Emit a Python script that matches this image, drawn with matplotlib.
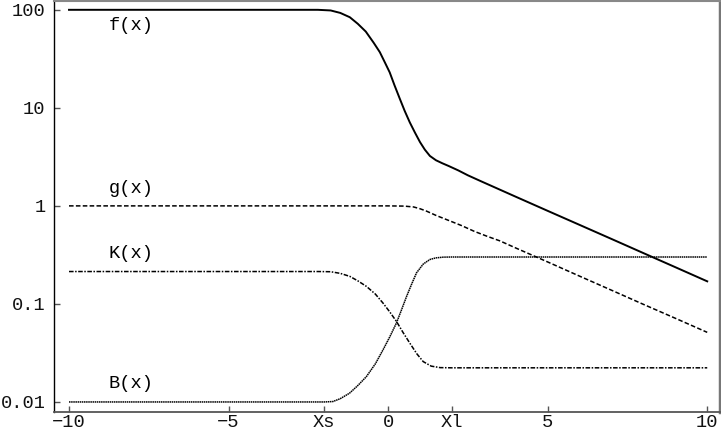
import matplotlib
matplotlib.use("Agg")
import matplotlib.pyplot as plt

plt.rcParams['font.family'] = ['Liberation Mono', 'DejaVu Sans Mono']

# f(x)
f_x = [-10, -2.2, -1.8, -1.5, -1.2, -0.95, -0.7, -0.45, -0.26, -0.1, 0.05, 0.2,
       0.37, 0.52, 0.68, 0.84, 1.0, 1.15, 1.31, 1.5, 1.7, 1.9, 2.2, 2.5, 2.9,
       4, 5, 6, 7, 8, 9, 10]
f_y = [100, 100, 98.5, 93, 84, 72, 60, 46, 37, 29, 23, 17,
       12.3, 9.3, 7.1, 5.6, 4.47, 3.75, 3.23, 2.92, 2.72, 2.55, 2.3, 2.05, 1.79,
       1.24, 0.89, 0.64, 0.46, 0.33, 0.237, 0.17]

# g(x)
g_x = [-10, 0, 0.5, 0.8, 1.0, 1.2, 1.5, 1.9, 2.3, 2.7, 3.1, 3.5, 4, 5, 6, 7, 8, 9, 10]
g_y = [1.0, 1.0, 0.995, 0.975, 0.935, 0.885, 0.80, 0.71, 0.63, 0.55, 0.49, 0.44,
       0.372, 0.268, 0.192, 0.138, 0.099, 0.0714, 0.0513]

# K(x)
k_x = [-10, -2.2, -1.8, -1.5, -1.2, -0.95, -0.68, -0.4, -0.16, 0.05, 0.26, 0.47,
       0.68, 0.9, 1.1, 1.35, 1.63, 2.0, 10]
k_y = [0.214, 0.214, 0.213, 0.205, 0.191, 0.172, 0.151, 0.126, 0.102, 0.083, 0.0664,
       0.051, 0.0398, 0.031, 0.0258, 0.0232, 0.0224, 0.0223, 0.0223]

# B(x)
b_x = [-10, -2.0, -1.73, -1.5, -1.21, -0.95, -0.68, -0.4, -0.16, 0.05, 0.26, 0.42,
       0.58, 0.74, 0.89, 1.1, 1.31, 1.5, 1.73, 2.0, 10]
b_y = [0.01, 0.01, 0.0101, 0.0108, 0.01228, 0.0147, 0.01815, 0.0245, 0.034, 0.046,
       0.0638, 0.087, 0.1195, 0.16, 0.2075, 0.255, 0.284, 0.295, 0.300, 0.301, 0.301]

x_ticks = [-10, -5, -2, 0, 2, 5, 10]
x_labels = ['\u221210', '\u22125', 'Xs', '0', 'Xl', '5', '10']
y_ticks = [0.01, 0.1, 1, 10, 100]
y_labels = ['0.01', '0.1', '1', '10', '100']

fig = plt.figure(figsize=(7.21, 4.34), dpi=100)
ax = fig.add_axes([0.0749, 0.0507, 0.9237, 0.947])

ax.plot(f_x, f_y, color='black', lw=1.4, ls='-')
ax.plot(g_x, g_y, color='black', lw=1.1, ls=(0, (3, 1.5)))
ax.plot(k_x, k_y, color='black', lw=1.1, ls=(0, (3, 1, 1, 1)))
ax.plot(b_x, b_y, color='black', lw=1.1, ls=(0, (1, 0.4)))

ax.set_yscale('log')
ax.set_xlim(-10.47, 10.4)
ax.set_ylim(0.0079, 123)

ax.set_xticks(x_ticks)
ax.set_xticklabels(x_labels)
ax.set_yticks(y_ticks)
ax.set_yticklabels(y_labels)
ax.minorticks_off()
ax.tick_params(direction='in', length=4, width=1, color='#555555',
               labelsize=13.5, labelcolor='#111111')
ax.tick_params(axis='y', pad=6)
ax.tick_params(axis='x', pad=1.5)

# Підписи кривих
ax.text(-8.75, 68.6, 'f(x)', fontsize=13.5, va='center', ha='left')
ax.text(-8.75, 1.51, 'g(x)', fontsize=13.5, va='center', ha='left')
ax.text(-8.75, 0.327, 'K(x)', fontsize=13.5, va='center', ha='left')
ax.text(-8.75, 0.0153, 'B(x)', fontsize=13.5, va='center', ha='left')

ax.spines['left'].set_color('black')
ax.spines['left'].set_linewidth(1.0)
ax.spines['bottom'].set_color('#555555')
ax.spines['bottom'].set_linewidth(1.3)
ax.spines['top'].set_color('#888888')
ax.spines['top'].set_linewidth(1.5)
ax.spines['right'].set_color('#777777')
ax.spines['right'].set_linewidth(2.5)

fig.savefig('out.png', dpi=100)
